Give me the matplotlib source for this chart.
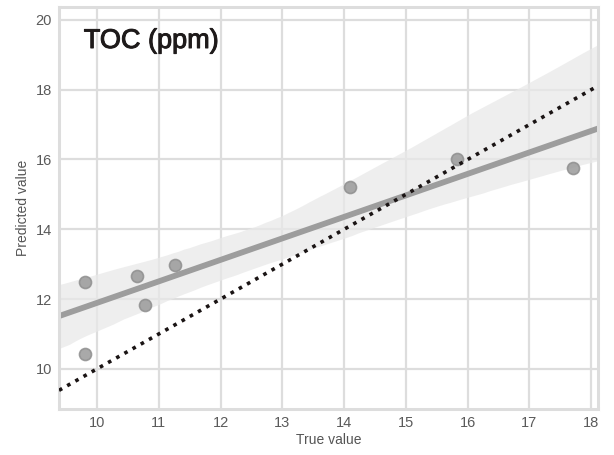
import matplotlib
matplotlib.use("Agg")
import matplotlib.pyplot as plt
import matplotlib.patheffects as pe
import seaborn as sns
import numpy as np

true_vals = [9.80, 9.80, 10.65, 10.78, 11.27, 14.10, 15.82, 17.70]
pred_vals = [12.50, 10.44, 12.66, 11.83, 12.99, 15.20, 16.01, 15.77]
x_ticks = [10, 11, 12, 13, 14, 15, 16, 17, 18]
y_ticks = [10, 12, 14, 16, 18, 20]
title = "TOC (ppm)"

plt.rcParams['font.family'] = ['Liberation Sans', 'DejaVu Sans']

fig = plt.figure(figsize=(6.14, 4.55), dpi=100)
ax = fig.add_axes([59/614, 1-409/455, (598-59)/614, (409-7)/455])

xlim = (9.385, 18.11)
ylim = (8.85, 20.37)
ax.set_xlim(*xlim)
ax.set_ylim(*ylim)

ax.set_axisbelow(True)
ax.grid(True, color='#dddddd', lw=1.6)
for s in ax.spines.values():
    s.set_color('#dddddd')
    s.set_linewidth(2.2)

sns.regplot(x=np.array(true_vals), y=np.array(pred_vals), ax=ax, truncate=False,
            seed=3, color='#9a9a9a',
            scatter_kws=dict(s=75, alpha=0.85, edgecolors='#8f8f8f', linewidths=1.2, zorder=3),
            line_kws=dict(lw=4.2, color='#9d9d9d', zorder=2))
# CI band color tweak
for coll in ax.collections:
    if coll.__class__.__name__ in ('PolyCollection', 'FillBetweenPolyCollection'):
        coll.set_facecolor('#e9e9e9')
        coll.set_alpha(0.75)

ax.plot(xlim, xlim, ls=(0, (1, 1.6)), color='#1a1414', lw=2.6, zorder=4)

ax.set_xlim(*xlim)
ax.set_ylim(*ylim)
ax.set_xticks(x_ticks)
ax.set_yticks(y_ticks)
ax.tick_params(length=0, labelsize=10.5, labelcolor='#5a5a5a', pad=5)
ax.set_xlabel("True value", fontsize=10, color='#555555', labelpad=2)
ax.set_ylabel("Predicted value", fontsize=10, color='#555555', labelpad=4)

ax.text(0.046, 0.898, title, transform=ax.transAxes, fontsize=19.5,
        color='#1e1a1a', va='baseline', ha='left',
        path_effects=[pe.withStroke(linewidth=0.7, foreground='#1e1a1a')])

fig.savefig("out.png", dpi=100)
